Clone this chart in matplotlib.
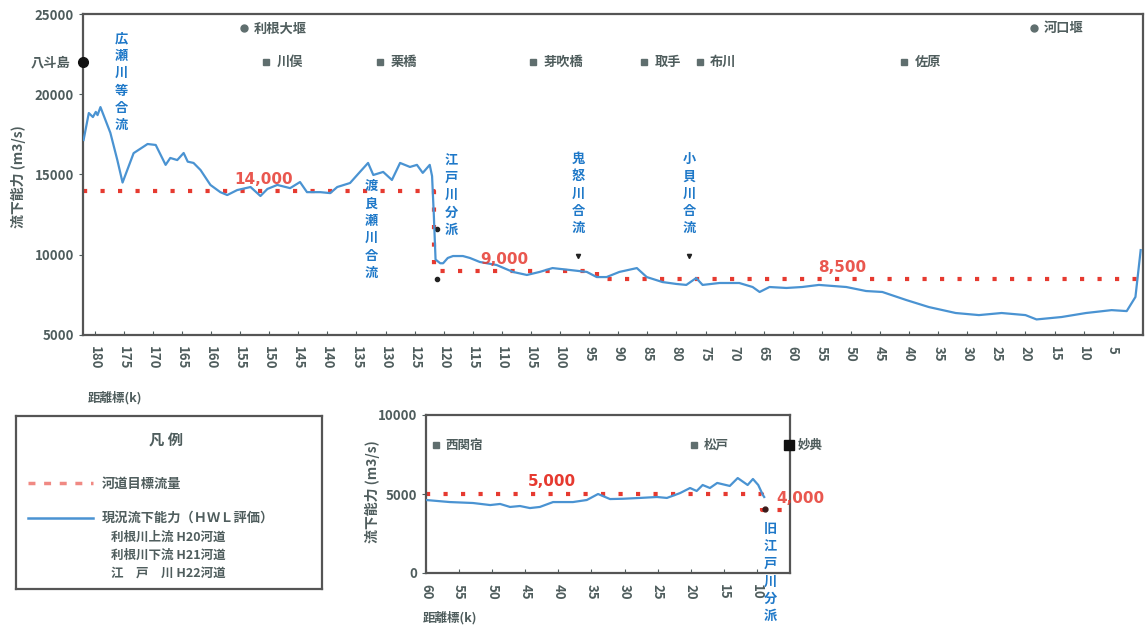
import matplotlib
matplotlib.use("Agg")
import matplotlib.pyplot as plt

plt.rcParams['font.family'] = ['Noto Sans CJK JP', 'DejaVu Sans']

W, H = 1146, 627

# 利根川 本川 (距離標 km / 流下能力 m3/s)
tone_km = [181.9, 181.0, 180.3, 179.8, 179.5, 179.0, 177.3, 176.1, 175.2, 173.3,
           170.9, 169.5, 167.8, 167.0, 165.8, 164.7, 164.0, 163.0, 161.8, 160.1,
           158.4, 157.2, 155.5, 153.2, 151.5, 150.3, 148.6, 146.4, 144.7, 143.5,
           141.2, 139.5, 138.3, 136.1, 134.4, 133.0, 132.1, 130.4, 128.9, 127.5,
           125.8, 124.6, 123.6, 122.4, 122.0, 121.7, 121.4, 120.6, 120.1, 119.3,
           118.4, 116.7, 115.5, 113.8, 110.9, 108.1, 105.7, 103.5, 101.3, 98.3,
           95.4, 93.7, 92.0, 89.8, 86.8, 85.1, 82.4, 80.0, 78.3, 76.6,
           75.5, 72.6, 69.2, 66.9, 65.7, 64.0, 61.1, 58.4, 55.5, 50.8,
           47.4, 44.6, 40.5, 36.6, 32.0, 28.0, 24.1, 20.0, 18.1, 13.8,
           9.6, 5.2, 2.6, 1.1, 0.2]
tone_cap = [17150, 18830, 18580, 18900, 18700, 19200, 17600, 15900, 14500, 16330,
            16900, 16840, 15600, 16030, 15900, 16340, 15800, 15720, 15280, 14350,
            13900, 13720, 14030, 14220, 13660, 14100, 14350, 14150, 14530, 13900,
            13900, 13840, 14220, 14470, 15160, 15720, 14970, 15160, 14660, 15720,
            15470, 15600, 15100, 15600, 14900, 12500, 9700, 9470, 9470, 9800,
            9920, 9920, 9800, 9550, 9360, 8930, 8740, 8930, 9170, 9050,
            8930, 8610, 8610, 8930, 9170, 8610, 8300, 8180, 8120, 8550,
            8120, 8240, 8240, 7990, 7680, 7990, 7930, 7990, 8120, 7990,
            7740, 7680, 7180, 6740, 6370, 6240, 6370, 6240, 5970, 6120,
            6370, 6550, 6490, 7370, 10290]

# 河道目標流量 (本川)
target_km = [182.0, 121.7, 121.7, 93.6, 93.6, 0.0]
target_q = [14000, 14000, 9000, 9000, 8500, 8500]
target_labels = [(151.0, 14000, '14,000'), (109.5, 9000, '9,000'), (51.5, 8500, '8,500')]

# 江戸川
edo_km = [60.0, 56.4, 52.9, 50.3, 48.8, 47.3, 45.8, 44.3, 42.8, 40.8,
          37.8, 35.7, 34.0, 32.2, 30.2, 27.7, 25.1, 23.6, 21.6, 20.1,
          19.1, 18.2, 17.1, 16.0, 14.1, 12.9, 11.4, 10.6, 9.8, 9.1, 8.9]
edo_cap = [4620, 4490, 4430, 4300, 4370, 4180, 4240, 4110, 4180, 4490,
           4490, 4620, 5000, 4680, 4700, 4750, 4810, 4750, 5060, 5380,
           5190, 5570, 5380, 5700, 5510, 6010, 5570, 5950, 5570, 4940, 4810]
edo_target_km = [60.0, 9.2, 9.2, 6.2]
edo_target_q = [5000, 5000, 4000, 4000]

# 基準点・観測所
tone_stations = ['利根大堰', '川俣', '栗橋', '芽吹橋', '取手', '布川', '佐原', '河口堰']
tone_station_km = [154.4, 150.5, 130.9, 104.7, 85.5, 76.0, 40.9, 18.6]
tone_station_y = [24100, 22000, 22000, 22000, 22000, 22000, 22000, 24100]
edo_stations = ['西関宿', '松戸']
edo_station_km = [58.5, 19.5]

# 合流・分派
tone_junctions = ['広瀬川等合流', '渡良瀬川合流', '江戸川分派', '鬼怒川合流', '小貝川合流']
tone_junction_km = [175.4, 132.5, 118.7, 96.9, 77.8]
tone_junction_top = [23900, 14700, 16300, 16400, 16400]

blue = '#4a93d2'
label_blue = '#1e78c8'
red = '#e63a30'
grey = '#4f5d5d'

fig = plt.figure(figsize=(W / 100, H / 100), dpi=100)
fig.patch.set_facecolor('white')


def fx(px):
    return px / W


def fy(py):
    return 1 - py / H


def style_axes(ax):
    for s in ax.spines.values():
        s.set_color('#555555')
        s.set_linewidth(1.6)
    ax.tick_params(axis='both', colors=grey, labelsize=9.5, length=3)
    ax.tick_params(axis='x', direction='in', labelrotation=270, pad=8)
    ax.tick_params(axis='y', direction='out')
    for t in ax.get_xticklabels() + ax.get_yticklabels():
        t.set_fontweight('bold')
        t.set_color(grey)


# ---- 利根川 本川 ----
ax = fig.add_axes([fx(83), fy(335), fx(1143 - 83), (335 - 14) / H])
ax.plot(tone_km, tone_cap, color=blue, lw=1.6, zorder=3)
ax.plot(target_km, target_q, color=red, lw=3, ls=(0, (1, 3.2)), zorder=2)
for x, y, s in target_labels:
    ax.text(x, y + 250, s, color=red, fontsize=11, fontweight='bold', ha='center', va='bottom',
            family=['DejaVu Sans'], alpha=0.85)
ax.set_xlim(182, -0.2)
ax.set_ylim(5000, 25000)
ax.set_xticks(list(range(180, -1, -5)))
ax.set_xticklabels([str(v) if v > 0 else '' for v in range(180, -1, -5)])
ax.set_yticks([5000, 10000, 15000, 20000, 25000])
style_axes(ax)

ax.plot([182], [22000], marker='o', ms=7, color='#111111', clip_on=False, zorder=5)
ax.text(-0.012, 22000, '八斗島', transform=ax.get_yaxis_transform(), ha='right', va='center',
        fontsize=9.5, fontweight='bold', color=grey)
for name, km, y in zip(tone_stations, tone_station_km, tone_station_y):
    ax.plot([km], [y], marker='o' if y > 23000 else 's', ms=5, color='#5f6e6e', zorder=4)
    ax.text(km - 1.8, y, name, ha='left', va='center', fontsize=9.5, fontweight='bold', color=grey)
for name, km, top in zip(tone_junctions, tone_junction_km, tone_junction_top):
    ax.text(km, top, '\n'.join(name), ha='center', va='top', fontsize=9.5, fontweight='bold',
            color=label_blue, linespacing=1.3)
ax.plot([96.9, 77.8], [9900, 9900], 'v', ms=3, color='#222222', ls='none')
ax.plot([121.2, 121.2], [11600, 8500], 'o', ms=3, color='#222222', ls='none')

fig.text(fx(18), fy(177), '流下能力 (m3/s)', rotation=90, ha='center', va='center',
         fontsize=10, fontweight='bold', color=grey)
fig.text(fx(88), fy(398), '距離標(k)', ha='left', va='center', fontsize=9, fontweight='bold', color=grey)

# ---- 江戸川 ----
ax2 = fig.add_axes([fx(426), fy(573), fx(790 - 426), (573 - 415) / H])
ax2.plot(edo_km, edo_cap, color=blue, lw=1.6, zorder=3)
ax2.plot(edo_target_km, edo_target_q, color=red, lw=3, ls=(0, (1, 3.2)), zorder=2)
ax2.text(41, 5300, '5,000', color=red, fontsize=11, fontweight='bold', ha='center', va='bottom',
         family=['DejaVu Sans'])
ax2.text(3.5, 4700, '4,000', color=red, fontsize=11, fontweight='bold', ha='center', va='center',
         family=['DejaVu Sans'], clip_on=False, alpha=0.85)
ax2.set_xlim(60, 5)
ax2.set_ylim(0, 10000)
ax2.set_xticks(list(range(60, 9, -5)))
ax2.set_yticks([0, 5000, 10000])
style_axes(ax2)
for name, km in zip(edo_stations, edo_station_km):
    ax2.plot([km], [8100], marker='s', ms=5, color='#5f6e6e', zorder=4)
    ax2.text(km - 1.5, 8100, name, ha='left', va='center', fontsize=9, fontweight='bold', color=grey)
ax2.plot([5.2], [8100], marker='s', ms=7, color='#111111', clip_on=False, zorder=5)
ax2.text(3.8, 8100, '妙典', ha='left', va='center', fontsize=9, fontweight='bold', color=grey)
ax2.plot([8.8], [4050], 'o', ms=3.5, color='#3a1a1a', clip_on=False)
ax2.text(8.0, 3200, '\n'.join('旧江戸川分派'), ha='center', va='top', fontsize=9.5, fontweight='bold',
         color=label_blue, linespacing=1.3, clip_on=False, zorder=6)
fig.text(fx(372), fy(492), '流下能力 (m3/s)', rotation=90, ha='center', va='center',
         fontsize=10, fontweight='bold', color=grey)
fig.text(fx(423), fy(618), '距離標(k)', ha='left', va='center', fontsize=9, fontweight='bold', color=grey)

# ---- 凡例 ----
lax = fig.add_axes([fx(16), fy(589), fx(322 - 16), (589 - 416) / H])
lax.set_xlim(0, 1)
lax.set_ylim(0, 1)
lax.set_xticks([])
lax.set_yticks([])
for s in lax.spines.values():
    s.set_color('#555555')
    s.set_linewidth(1.6)
lax.text(0.49, 0.86, '凡 例', ha='center', va='center', fontsize=11, fontweight='bold', color=grey)
lax.plot([0.04, 0.25], [0.61, 0.61], color=red, lw=2.5, ls=(0, (2, 2.5)), alpha=0.6)
lax.text(0.28, 0.61, '河道目標流量', ha='left', va='center', fontsize=9.5, fontweight='bold', color=grey)
lax.plot([0.04, 0.25], [0.41, 0.41], color=blue, lw=1.8)
lax.text(0.28, 0.41, '現況流下能力（ＨＷＬ評価）', ha='left', va='center', fontsize=9.5,
         fontweight='bold', color=grey)
for i, s in enumerate(['利根川上流 H20河道', '利根川下流 H21河道', '江　戸　川 H22河道']):
    lax.text(0.31, 0.30 - i * 0.105, s, ha='left', va='center', fontsize=9, fontweight='bold', color=grey)

fig.savefig('out.png', dpi=100, facecolor='white')
